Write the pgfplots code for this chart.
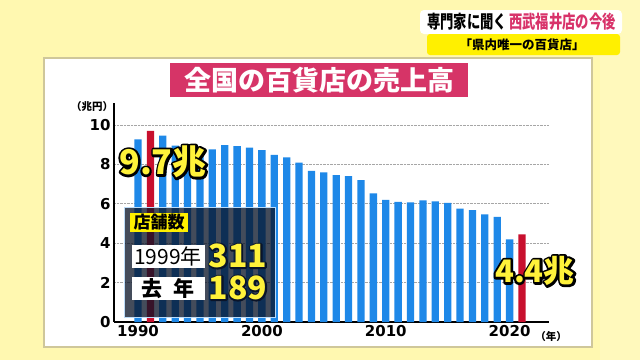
\documentclass[border=0pt]{standalone}
\usepackage{pgfplots}
\pgfplotsset{compat=1.18}
\usepackage{fontspec}
\setmainfont{Noto Sans CJK JP}
\newfontfamily\dv{DejaVu Sans}
\definecolor{bg}{HTML}{FFF8B0}
\definecolor{panelborder}{HTML}{CFC79A}
\definecolor{titlepink}{HTML}{D63467}
\definecolor{headpink}{HTML}{D8336A}
\definecolor{barblue}{HTML}{1E88E8}
\definecolor{barred}{HTML}{C8102E}
\definecolor{hiyellow}{HTML}{FFF000}
\definecolor{numyellow}{HTML}{FFF23A}
\definecolor{navy}{HTML}{0A1428}
\newcommand{\fs}[1]{\fontsize{#1}{#1}\selectfont}
% #1 coordinate, #2 font, #3 text, #4 fill colour, #5 stroke rgb (pdf), #6 stroke width
\newcommand{\outl}[6]{%
  \node[text=black,font=#2,inner sep=0pt] at #1 {\special{pdf:code 1 Tr #6 w 1 J 1 j #5 RG}#3\special{pdf:code 0 Tr}};
  \node[text=#4,font=#2,inner sep=0pt] at #1 {#3};}
\begin{document}
\begin{tikzpicture}
\fill[bg] (0,0) rectangle (640pt,360pt);
\useasboundingbox (0,0) rectangle (640pt,360pt);
\begin{scope}[x=1pt,y=-1pt,yshift=360pt]
  \fill[bg!85!white] (600,0) rectangle (640,360);
  \fill[white,draw=panelborder,line width=1.5pt] (44,58) rectangle (592,347);
  % header
  \fill[white,rounded corners=4pt] (420,10) rectangle (622,34);
  \fill[hiyellow,rounded corners=3pt] (427,34) rectangle (620,55);
  \node[anchor=west,inner sep=0pt,xscale=0.74,font=\bfseries\fs{18}] at (427,22) {専門家に聞く\,\textcolor{headpink}{西武福井店の今後}};
  \node[inner sep=0pt,font=\bfseries\fs{12.5}] at (522,45) {「県内唯一の百貨店」};
  % title
  \fill[titlepink] (170,63) rectangle (468,97);
  \node[text=white,inner sep=0pt,font=\bfseries\fs{27}] at (319,80) {全国の百貨店の売上高};
  \node[inner sep=0pt,font=\bfseries\fs{10.5}] at (92,107) {（兆円）};
  \node[inner sep=0pt,font=\bfseries\fs{10.5}] at (551,337) {（年）};
\end{scope}
\begin{axis}[
  at={(114pt,38pt)}, anchor=south west, scale only axis,
  width=435pt, height=219pt,
  xmin=1988.06, xmax=2023.18, ymin=0, ymax=11.12,
  axis lines=left, axis line style={-, line width=1.8pt, black},
  ytick={0,2,4,6,8,10}, xtick={1990,2000,2010,2020},
  xticklabels={1990,2000,2010,2020},
  major tick length=0pt,
  ymajorgrids, grid style={densely dotted, line width=0.9pt, gray!70},
  tick label style={font=\dv\bfseries\fs{15}},
  /pgf/number format/assume math mode=true,
  clip=false,
]
\addplot[ybar, bar width=7.3pt, bar shift=0pt, fill=barblue, draw=none] coordinates {
(1990,9.27) (1992,9.46) (1993,8.95) (1994,8.75) (1995,8.65) (1996,8.77)
(1997,8.98) (1998,8.93) (1999,8.85) (2000,8.73) (2001,8.48) (2002,8.36)
(2003,8.09) (2004,7.68) (2005,7.60) (2006,7.46) (2007,7.41) (2008,7.21)
(2009,6.53) (2010,6.20) (2011,6.10) (2012,6.08) (2013,6.18) (2014,6.13)
(2015,6.05) (2016,5.76) (2017,5.68) (2018,5.47) (2019,5.34) (2020,4.19)
};
\addplot[ybar, bar width=7.3pt, bar shift=0pt, fill=barred, draw=none] coordinates {
(1991,9.71) (2021,4.45)
};
\end{axis}
\begin{scope}[x=1pt,y=-1pt,yshift=360pt]
  % overlay box
  \fill[navy,fill opacity=0.76] (124,207) rectangle (275,317);
  \draw[white!70!barblue,line width=0.7pt] (124,207) rectangle (275,317);
  \fill[hiyellow] (130,213) rectangle (188,232);
  \node[inner sep=0pt,font=\bfseries\fs{17}] at (159,222.5) {店舗数};
  \fill[white] (132,245) rectangle (205,268);
  \node[inner sep=0pt,font=\fs{21}] at (168,256.5) {1999年};
  \fill[white] (132,277) rectangle (205,300);
  \node[inner sep=0pt,font=\bfseries\fs{21}] at (168,288.5) {去\hspace{0.5em}年};
  \outl{(238,256)}{\bfseries\fs{32}}{311}{numyellow}{0.04 0.08 0.16}{3}
  \outl{(238,288)}{\bfseries\fs{32}}{189}{numyellow}{0.04 0.08 0.16}{3}
  % value labels
  \outl{(163,162)}{\bfseries\fs{34}}{9.7兆}{numyellow}{0 0 0}{4.5}
  \outl{(535,271)}{\bfseries\fs{31}}{4.4兆}{numyellow}{0 0 0}{4.5}
\end{scope}
\end{tikzpicture}
\end{document}
